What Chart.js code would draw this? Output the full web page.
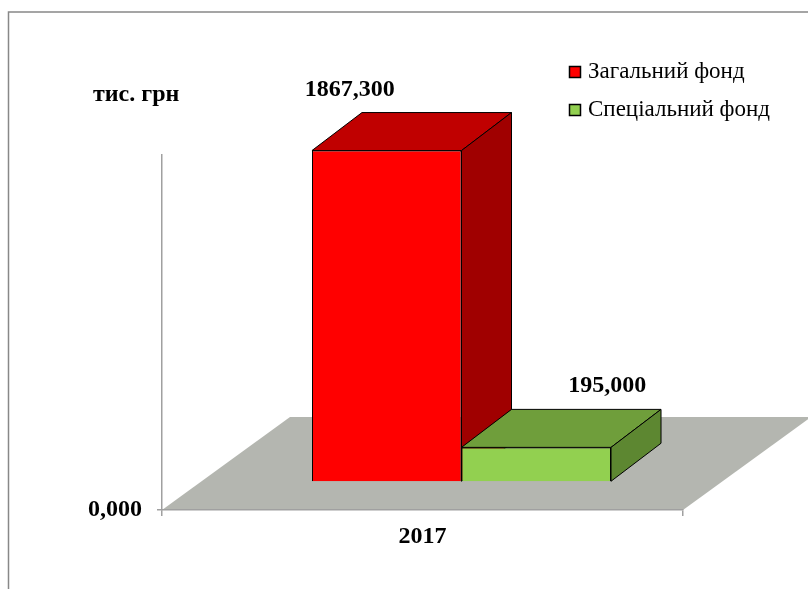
<!DOCTYPE html>
<html>
<head>
<meta charset="utf-8">
<script src="https://cdn.jsdelivr.net/npm/chart.js@4"></script>
<style>
  html, body { margin: 0; padding: 0; background: #fff; }
  canvas { display: block; }
</style>
</head>
<body>
<canvas id="chart" width="808" height="589"></canvas>
<script>
// data
var years = ['2017'];
var seriesNames = ['Загальний фонд', 'Спеціальний фонд'];
var generalFund = [1867.3];
var specialFund = [195.0];
var yTicks = [0];
var unitLabel = 'тис. грн';

// styles
var frontColors = ['#ff0000', '#92d050'];
var topColors = ['#c00000', '#6f9e3b'];
var sideColors = ['#a00000', '#5d8731'];
var labelShift = [-37, 71];
var serif = '"Liberation Serif", "Times New Roman", serif';
var depth = { x: 50, y: 38 };      // bar depth
var floorDepth = { x: 128, y: 93 }; // floor depth
var barShift = { x: 39, y: 28 };    // bars sit in the middle of the floor

function fmt(v) {
    return v.toFixed(3).replace('.', ',');
}

var threeD = {
    id: 'threeD',
    beforeDraw: function(chart) {
        var ctx = chart.ctx, a = chart.chartArea;
        ctx.save();
        ctx.fillStyle = '#fff';
        ctx.fillRect(0, 0, chart.width, chart.height);
        ctx.strokeStyle = '#888';
        ctx.lineWidth = 1.5;
        ctx.strokeRect(8.5, 12, chart.width + 20, chart.height + 20);
        // floor
        ctx.fillStyle = '#b4b6b0';
        ctx.beginPath();
        ctx.moveTo(a.left, a.bottom);
        ctx.lineTo(a.right, a.bottom);
        ctx.lineTo(a.right + floorDepth.x, a.bottom - floorDepth.y);
        ctx.lineTo(a.left + floorDepth.x, a.bottom - floorDepth.y);
        ctx.closePath();
        ctx.fill();
        ctx.restore();
    },
    // bars are drawn below, left to right, so the right one sits on top
    beforeDatasetDraw: function() {
        return false;
    },
    afterDatasetsDraw: function(chart) {
        var ctx = chart.ctx;
        ctx.save();
        ctx.translate(barShift.x, -barShift.y);
        chart.data.datasets.forEach(function(ds, i) {
            chart.getDatasetMeta(i).data.forEach(function(bar) {
                var p = bar.getProps(['x', 'y', 'base', 'width'], true);
                var l = p.x - p.width / 2, r = p.x + p.width / 2;
                bar.draw(ctx);
                ctx.lineWidth = 1;
                ctx.strokeStyle = '#000';
                ctx.lineJoin = 'round';
                // top
                ctx.fillStyle = topColors[i];
                ctx.beginPath();
                ctx.moveTo(l, p.y);
                ctx.lineTo(r, p.y);
                ctx.lineTo(r + depth.x, p.y - depth.y);
                ctx.lineTo(l + depth.x, p.y - depth.y);
                ctx.closePath();
                ctx.fill();
                ctx.stroke();
                // side
                ctx.fillStyle = sideColors[i];
                ctx.beginPath();
                ctx.moveTo(r, p.y);
                ctx.lineTo(r + depth.x, p.y - depth.y);
                ctx.lineTo(r + depth.x, p.base - depth.y);
                ctx.lineTo(r, p.base);
                ctx.closePath();
                ctx.fill();
                ctx.stroke();
            });
        });
        ctx.restore();
    },
    afterDraw: function(chart) {
        var ctx = chart.ctx;
        ctx.save();
        ctx.fillStyle = '#000';
        // value labels
        ctx.font = 'bold 24px ' + serif;
        ctx.textAlign = 'center';
        ctx.textBaseline = 'alphabetic';
        chart.data.datasets.forEach(function(ds, i) {
            chart.getDatasetMeta(i).data.forEach(function(bar, j) {
                var p = bar.getProps(['x', 'y'], true);
                ctx.fillText(fmt(ds.data[j]), p.x + barShift.x + labelShift[i], p.y - barShift.y - 55);
            });
        });
        // unit
        ctx.textAlign = 'left';
        ctx.fillText(unitLabel, 93, 101);
        // legend
        ctx.font = '23px ' + serif;
        ctx.textBaseline = 'middle';
        chart.data.datasets.forEach(function(ds, i) {
            var y = 72 + i * 38;
            ctx.fillStyle = frontColors[i];
            ctx.fillRect(569.5, y - 5.5, 11, 11);
            ctx.strokeStyle = '#000';
            ctx.lineWidth = 1.5;
            ctx.strokeRect(569.5, y - 5.5, 11, 11);
            ctx.fillStyle = '#000';
            ctx.fillText(ds.label, 588, y);
        });
        ctx.restore();
    }
};

new Chart(document.getElementById('chart'), {
    type: 'bar',
    data: {
        labels: years,
        datasets: [
            { label: seriesNames[0], data: generalFund, backgroundColor: frontColors[0], borderColor: '#000', borderWidth: 1 },
            { label: seriesNames[1], data: specialFund, backgroundColor: frontColors[1], borderColor: '#000', borderWidth: 1 }
        ]
    },
    options: {
        responsive: false,
        devicePixelRatio: 1,
        animation: false,
        categoryPercentage: 0.574,
        barPercentage: 1,
        layout: { padding: { left: 82, right: 125, top: 155, bottom: 29 } },
        plugins: {
            legend: { display: false },
            tooltip: { enabled: false }
        },
        scales: {
            x: {
                offset: true,
                grid: { offset: true, drawOnChartArea: false, tickLength: 6, color: '#a0a0a0', lineWidth: 1.5 },
                border: { color: '#a0a0a0', width: 1.5 },
                ticks: { color: '#000', font: { family: serif, size: 24, weight: 'bold' }, padding: 6 },
                afterFit: function(s) { s.height = 50; }
            },
            y: {
                min: 0,
                max: 2000,
                afterBuildTicks: function(s) { s.ticks = yTicks.map(function(v) { return { value: v }; }); },
                grid: { drawOnChartArea: false, tickLength: 5, color: '#a0a0a0', lineWidth: 1.5 },
                border: { color: '#a0a0a0', width: 1.5 },
                ticks: { color: '#000', font: { family: serif, size: 24, weight: 'bold' }, padding: 15, callback: function(v) { return fmt(v); } },
                afterFit: function(s) { s.width = 80; }
            }
        }
    },
    plugins: [threeD]
});
</script>
</body>
</html>
